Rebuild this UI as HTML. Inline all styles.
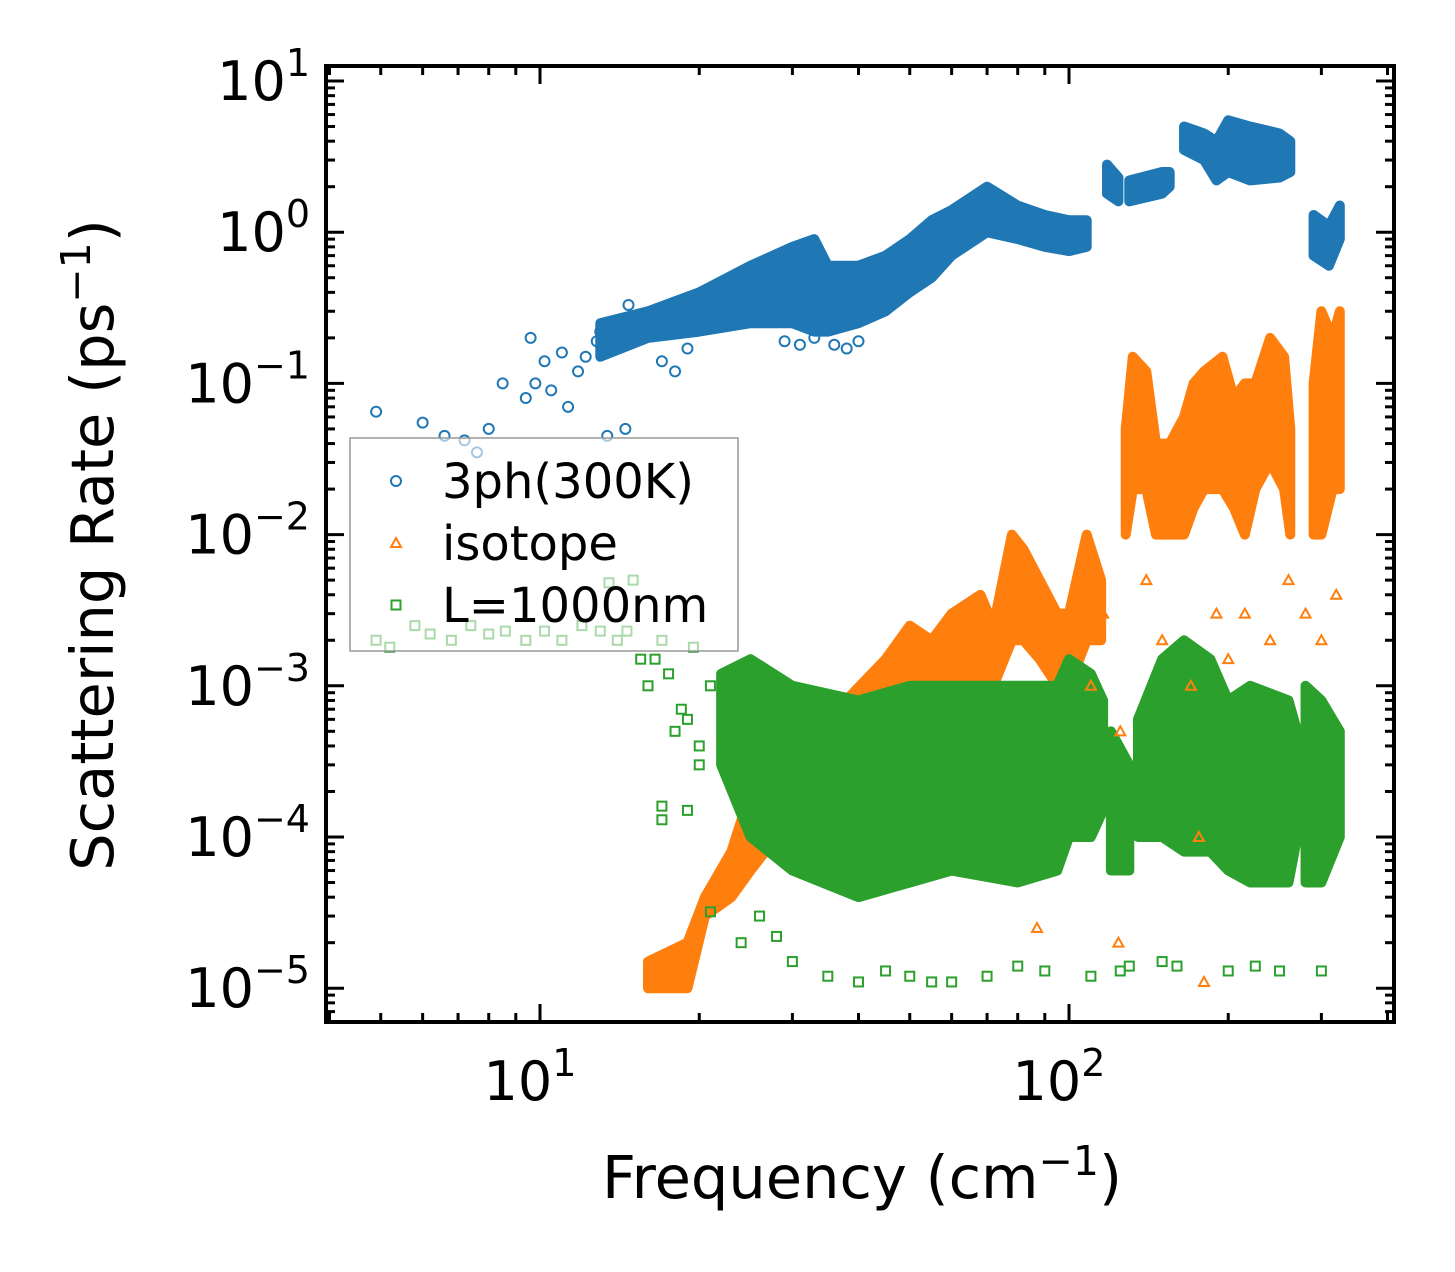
<!DOCTYPE html>
<html><head><meta charset="utf-8"><style>
html,body{margin:0;padding:0;background:#fff;}
svg{display:block;font-family:"DejaVu Sans","Liberation Sans",sans-serif;}
</style></head><body>
<svg id="chart" width="1455" height="1272" viewBox="0 0 1455 1272" xmlns="http://www.w3.org/2000/svg">
<g id="bands"></g><g id="points"></g><g id="axes"></g><g id="legend"></g>
</svg>
<script>
// ---- data (frequency cm^-1, rate ps^-1); dense clusters as bands ----
const blueBandF  = [[13,16,20,25,30,33,35,40,45,50,55,60,70,80,90,100,108],[118,124],[130,150,155],[165,180,190,200,220,250,262],[290,310,325]];
const blueBandLo = [[0.15,0.2,0.22,0.25,0.25,0.22,0.22,0.25,0.3,0.4,0.5,0.7,1.0,0.9,0.8,0.75,0.8],[1.8,1.6],[1.6,1.8,2.0],[3.5,3.0,2.2,2.5,2.2,2.3,2.5],[0.7,0.6,0.9]];
const blueBandHi = [[0.25,0.3,0.4,0.6,0.8,0.9,0.6,0.6,0.7,0.9,1.2,1.4,2.0,1.5,1.3,1.2,1.2],[2.8,2.3],[2.2,2.5,2.5],[5.0,4.5,4.0,5.5,5.0,4.5,4.0],[1.3,1.1,1.5]];
const blueF = [4.9,6.0,6.6,7.2,7.6,8.0,8.5,9.4,9.6,9.8,10.2,10.5,11,11.3,11.8,12.2,12.8,13,13.4,14,14.5,14.7,15,17,18,19,29,31,33,36,38,40];
const blueV = [0.065,0.055,0.045,0.042,0.035,0.05,0.1,0.08,0.2,0.1,0.14,0.09,0.16,0.07,0.12,0.15,0.19,0.22,0.045,0.25,0.05,0.33,0.22,0.14,0.12,0.17,0.19,0.18,0.2,0.18,0.17,0.19];

const orangeBandF  = [[16,19,20.5,23,25,28,35,45,50,55,60,68,72,78,82,88,95,100,108,115],[128,132,140,146,155,165,172,180,195,205,215,225,240,255,262],[290,300,315,325]];
const orangeBandLo = [[1e-5,1e-5,3e-5,4e-5,6e-5,1e-4,1.5e-4,3e-4,5e-4,5e-4,8e-4,1e-3,1e-3,2e-3,2e-3,1.5e-3,1e-3,1e-3,2e-3,2e-3],[1e-2,2e-2,2e-2,1e-2,1e-2,1e-2,1.5e-2,2e-2,2e-2,1.5e-2,1e-2,2e-2,3e-2,2e-2,1e-2],[1e-2,1e-2,2e-2,2e-2]];
const orangeBandHi = [[1.5e-5,2e-5,4e-5,8e-5,2e-4,4e-4,6e-4,1.5e-3,2.5e-3,2e-3,3e-3,4e-3,2.5e-3,1e-2,8e-3,5e-3,3e-3,3e-3,1e-2,5e-3],[5e-2,1.5e-1,1.2e-1,4e-2,4e-2,6e-2,1e-1,1.2e-1,1.5e-1,8e-2,1e-1,1e-1,2e-1,1.5e-1,5e-2],[1e-1,3e-1,2e-1,3e-1]];
const orangeF = [110,116,125,140,150,170,180,190,200,215,240,260,280,300,320,124,176,87];
const orangeV = [1e-3,3e-3,5e-4,5e-3,2e-3,1e-3,1.1e-5,3e-3,1.5e-3,3e-3,2e-3,5e-3,3e-3,2e-3,4e-3,2e-5,1e-4,2.5e-5];

const greenBandF  = [[22,25,30,40,50,60,80,95,100,110,116],[120,130],[135,150,165,185,200,220,260,270],[280,300,325]];
const greenBandLo = [[3e-4,1e-4,6e-5,4e-5,5e-5,6e-5,5e-5,6e-5,1e-4,1e-4,1.5e-4],[6e-5,6e-5],[1e-4,1e-4,8e-5,8e-5,6e-5,5e-5,5e-5,1e-4],[5e-5,5e-5,1e-4]];
const greenBandHi = [[1.2e-3,1.5e-3,1e-3,8e-4,1e-3,1e-3,1e-3,1e-3,1.5e-3,1.2e-3,8e-4],[5e-4,3e-4],[6e-4,1.5e-3,2e-3,1.5e-3,8e-4,1e-3,8e-4,5e-4],[1e-3,8e-4,5e-4]];
const greenF = [4.9,5.2,5.8,6.2,6.8,7.4,8,8.6,9.4,10.2,11,12,13,13.5,14,14.6,15,15.5,16,16.5,17,17.5,18,18.5,19,19.5,20,21,21,17,17,19,20,24,26,28,30,35,40,45,50,55,60,70,80,90,110,125,130,150,160,200,225,250,300];
const greenV = [2e-3,1.8e-3,2.5e-3,2.2e-3,2e-3,2.5e-3,2.2e-3,2.3e-3,2e-3,2.3e-3,2e-3,2.5e-3,2.3e-3,4.8e-3,2e-3,2.3e-3,5e-3,1.5e-3,1e-3,1.5e-3,2e-3,1.2e-3,5e-4,7e-4,6e-4,1.8e-3,3e-4,1e-3,3.2e-5,1.6e-4,1.3e-4,1.5e-4,4e-4,2e-5,3e-5,2.2e-5,1.5e-5,1.2e-5,1.1e-5,1.3e-5,1.2e-5,1.1e-5,1.1e-5,1.2e-5,1.4e-5,1.3e-5,1.2e-5,1.3e-5,1.4e-5,1.5e-5,1.4e-5,1.3e-5,1.4e-5,1.3e-5,1.3e-5];

const xTicks = [10,100];
const yTicks = [1e1,1e0,1e-1,1e-2,1e-3,1e-4,1e-5];
const yTickExp = ["1","0","−1","−2","−3","−4","−5"];
const xTickExp = ["1","2"];

// ---- axes ----
const L=326,R=1394,T=66,B=1022;
const X = f => 540 + (Math.log10(f)-1)*529;
const Y = v => 81 + (1-Math.log10(v))*151.2;
const NS="http://www.w3.org/2000/svg";
function mk(tag,attrs,parent){const e=document.createElementNS(NS,tag);for(const k in attrs)e.setAttribute(k,attrs[k]);parent.appendChild(e);return e;}
const gB=document.getElementById('bands'),gP=document.getElementById('points'),gA=document.getElementById('axes'),gL=document.getElementById('legend');
const C={blue:'#1f77b4',orange:'#ff7f0e',green:'#2ca02c'};

function bands(FF,LL,HH,col,name){
  FF.forEach((F,j)=>{
    const Lo=LL[j],Hi=HH[j];
    let pts=F.map((f,i)=>X(f)+','+Y(Hi[i])).concat(F.map((f,i)=>X(f)+','+Y(Lo[i])).reverse());
    const p=mk('polygon',{points:pts.join(' '),fill:col,stroke:col,'stroke-width':10,'stroke-linejoin':'round'},gB);
    
    
  });
}
function marker(type,x,y,col,parent){
  let e;
  if(type==='o') e=mk('circle',{cx:x,cy:y,r:5,fill:'none',stroke:col,'stroke-width':2},parent);
  else if(type==='^') e=mk('polygon',{points:`${x},${y-5} ${x+5},${y+4} ${x-5},${y+4}`,fill:'none',stroke:col,'stroke-width':2},parent);
  else e=mk('rect',{x:x-4.5,y:y-4.5,width:9,height:9,fill:'none',stroke:col,'stroke-width':2},parent);
  return e;
}
bands(blueBandF,blueBandLo,blueBandHi,C.blue,'3ph-band');
bands(orangeBandF,orangeBandLo,orangeBandHi,C.orange,'isotope-band');
bands(greenBandF,greenBandLo,greenBandHi,C.green,'boundary-band');
blueF.forEach((f,i)=>{const e=marker('o',X(f),Y(blueV[i]),C.blue,gP);
  
  });
orangeF.forEach((f,i)=>{const e=marker('^',X(f),Y(orangeV[i]),C.orange,gP);
  
  });
greenF.forEach((f,i)=>{const e=marker('s',X(f),Y(greenV[i]),C.green,gP);
  
  });

// frame
const fr=mk('rect',{x:L,y:T,width:R-L,height:B-T,fill:'none',stroke:'#000','stroke-width':4},gA);


for(let d=0;d<=2;d++){for(let m=1;m<10;m++){const f=m*Math.pow(10,d);const x=X(f);if(x<L||x>R)continue;
  const len=m===1?18:9;
  mk('line',{x1:x,y1:B,x2:x,y2:B-len,stroke:'#000','stroke-width':3},gA);
  mk('line',{x1:x,y1:T,x2:x,y2:T+len,stroke:'#000','stroke-width':3},gA);}}
xTicks.forEach((f,i)=>{const t=mk('text',{x:X(f)-10,y:1100,'font-size':54,'text-anchor':'middle'},gA);
  
  
  t.innerHTML=`10<tspan dy="-24" font-size="38">${xTickExp[i]}</tspan>`;});
for(let d=-6;d<=1;d++){for(let m=1;m<10;m++){const v=m*Math.pow(10,d);const y=Y(v);if(y<T||y>B)continue;
  const len=m===1?18:9;
  mk('line',{x1:L,y1:y,x2:L+len,y2:y,stroke:'#000','stroke-width':3},gA);
  mk('line',{x1:R,y1:y,x2:R-len,y2:y,stroke:'#000','stroke-width':3},gA);}}
yTicks.forEach((v,i)=>{const t=mk('text',{x:310,y:Y(v)+19,'font-size':54,'text-anchor':'end'},gA);
  
  
  t.innerHTML=`10<tspan dy="-24" font-size="38">${yTickExp[i]}</tspan>`;});
const xt=mk('text',{x:862,y:1198,'font-size':59,'text-anchor':'middle'},gA);


xt.innerHTML='Frequency (cm<tspan dy="-23" font-size="41">−1</tspan><tspan dy="23">)</tspan>';
const yt=mk('text',{x:0,y:0,'font-size':59,'text-anchor':'middle',transform:'translate(113,545) rotate(-90)'},gA);


yt.innerHTML='Scattering Rate (ps<tspan dy="-23" font-size="41">−1</tspan><tspan dy="23">)</tspan>';

// legend
const lb=mk('rect',{x:350,y:438,width:388,height:213,fill:'rgba(255,255,255,0.6)',stroke:'#999','stroke-width':1.5},gL);


[['o',C.blue,'3ph(300K)',481],['^',C.orange,'isotope',543],['s',C.green,'L=1000nm',605]].forEach(e=>{
  const g=mk('g',{},gL);
  
  
  marker(e[0],396,e[3],e[1],g);
  const t=mk('text',{x:442,y:e[3]+17,'font-size':48},g);t.textContent=e[2];
});
</script>
</body></html>
